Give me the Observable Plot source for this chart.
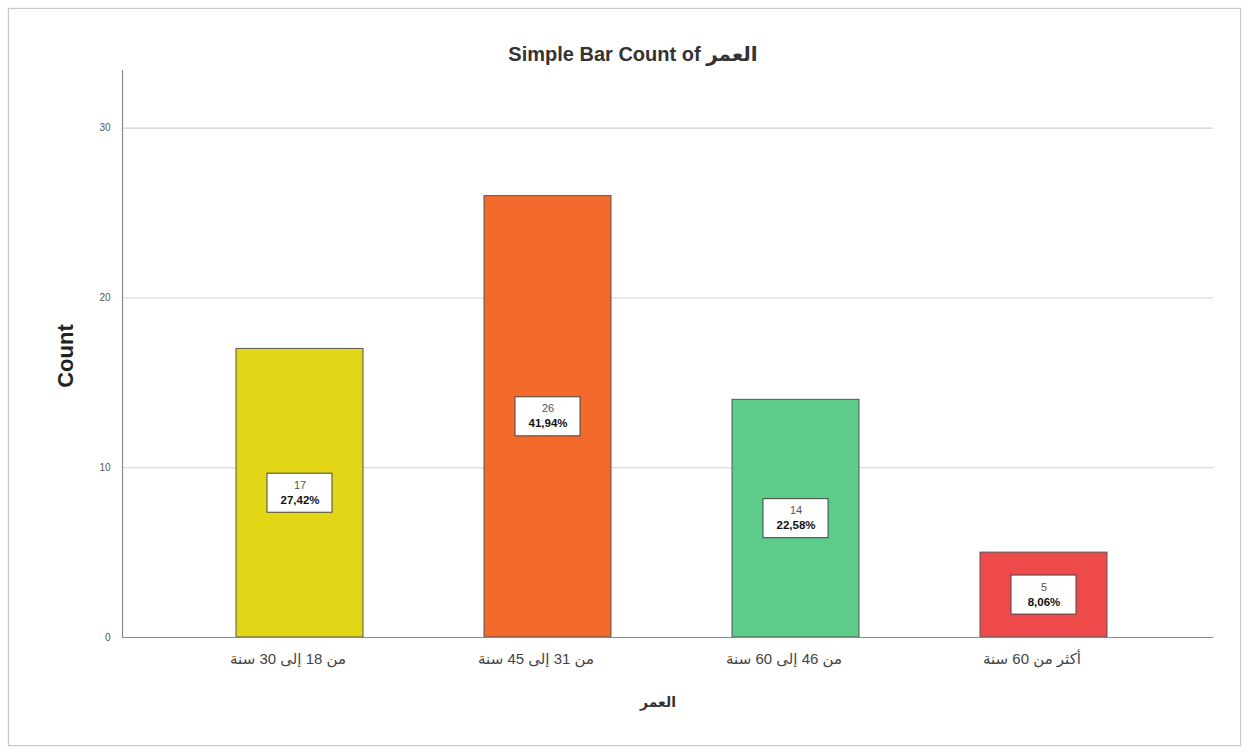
<!DOCTYPE html>
<html><head><meta charset="utf-8">
<script src="https://cdn.jsdelivr.net/npm/d3@7"></script>
<script src="https://cdn.jsdelivr.net/npm/@observablehq/plot@0.6"></script>
<style>
html,body{margin:0;padding:0;background:#fff;}
#wrap{position:relative;width:1250px;height:753px;overflow:hidden;font-family:"Liberation Sans","DejaVu Sans",sans-serif;}
#border{position:absolute;left:8px;top:8px;width:1231px;height:736px;border:1px solid #c8c8c8;box-shadow:0 0 2px #ddd;pointer-events:none;}
</style></head>
<body><div id="wrap"><div id="border"></div><div id="chart"></div></div>
<script>
const categories = ["من 18 إلى 30 سنة", "من 31 إلى 45 سنة", "من 46 إلى 60 سنة", "أكثر من 60 سنة"];
const counts = [17, 26, 14, 5];
const percents = ["27,42%", "41,94%", "22,58%", "8,06%"];
const colors = ["#e3d616", "#f26a2c", "#5dcb89", "#ef4a4a"];
const yTicks = [0, 10, 20, 30];
const title = "Simple Bar Count of العمر";
const xLabel = "العمر";
const yLabel = "Count";

const data = categories.map((c, i) => ({cat: c, count: counts[i], pct: percents[i], color: colors[i]}));
const boxHalf = 1.15;

const plot = Plot.plot({
  width: 1250,
  height: 753,
  marginLeft: 122,
  marginRight: 37,
  marginTop: 70,
  marginBottom: 116,
  style: {fontFamily: '"Liberation Sans","DejaVu Sans",sans-serif', background: "transparent"},
  x: {domain: categories, range: [175.5, 1167.5], paddingInner: 0.488, paddingOuter: 0.244, label: null},
  y: {domain: [0, 33.4], label: null},
  marks: [
    Plot.ruleY(yTicks.filter(d => d > 0), {stroke: "#cfcfcf", strokeWidth: 1.2}),
    Plot.barY(data, {x: "cat", y: "count", fill: "color", stroke: "#555", strokeWidth: 1}),
    Plot.barY(data, {x: "cat", y1: d => d.count / 2 - boxHalf, y2: d => d.count / 2 + boxHalf, fill: "#fff", stroke: "#444", strokeWidth: 1, insetLeft: 31, insetRight: 31}),
    Plot.text(data, {x: "cat", y: d => d.count / 2, text: d => String(d.count), dy: -8, fontSize: 11, fill: "#555"}),
    Plot.text(data, {x: "cat", y: d => d.count / 2, text: "pct", dy: 7, fontSize: 11.5, fontWeight: "bold", fill: "#111"}),
    Plot.ruleY([0], {stroke: "#8a8a8a", strokeWidth: 1.2}),
    Plot.frame({anchor: "left", stroke: "#8a8a8a", strokeWidth: 1.2}),
    Plot.axisY(yTicks, {tickSize: 0, tickPadding: 12, fontSize: 10, fill: "#555", label: null}),
    Plot.axisX({tickSize: 0, tickPadding: 16, dx: -12, fontSize: 15, fill: "#444", label: null}),
    Plot.text([xLabel], {frameAnchor: "bottom", dx: -10, dy: 69, fontSize: 14, fontWeight: "bold", fill: "#333"}),
    Plot.text([yLabel], {frameAnchor: "left", textAnchor: "middle", dx: -57, dy: 2, rotate: -90, fontSize: 22, fontWeight: "bold", fill: "#222"}),
    Plot.text([title], {frameAnchor: "top", dx: -35, dy: -24, fontSize: 20, fontWeight: "bold", fill: "#333"})
  ]
});
document.getElementById("chart").appendChild(plot);
</script></body></html>
